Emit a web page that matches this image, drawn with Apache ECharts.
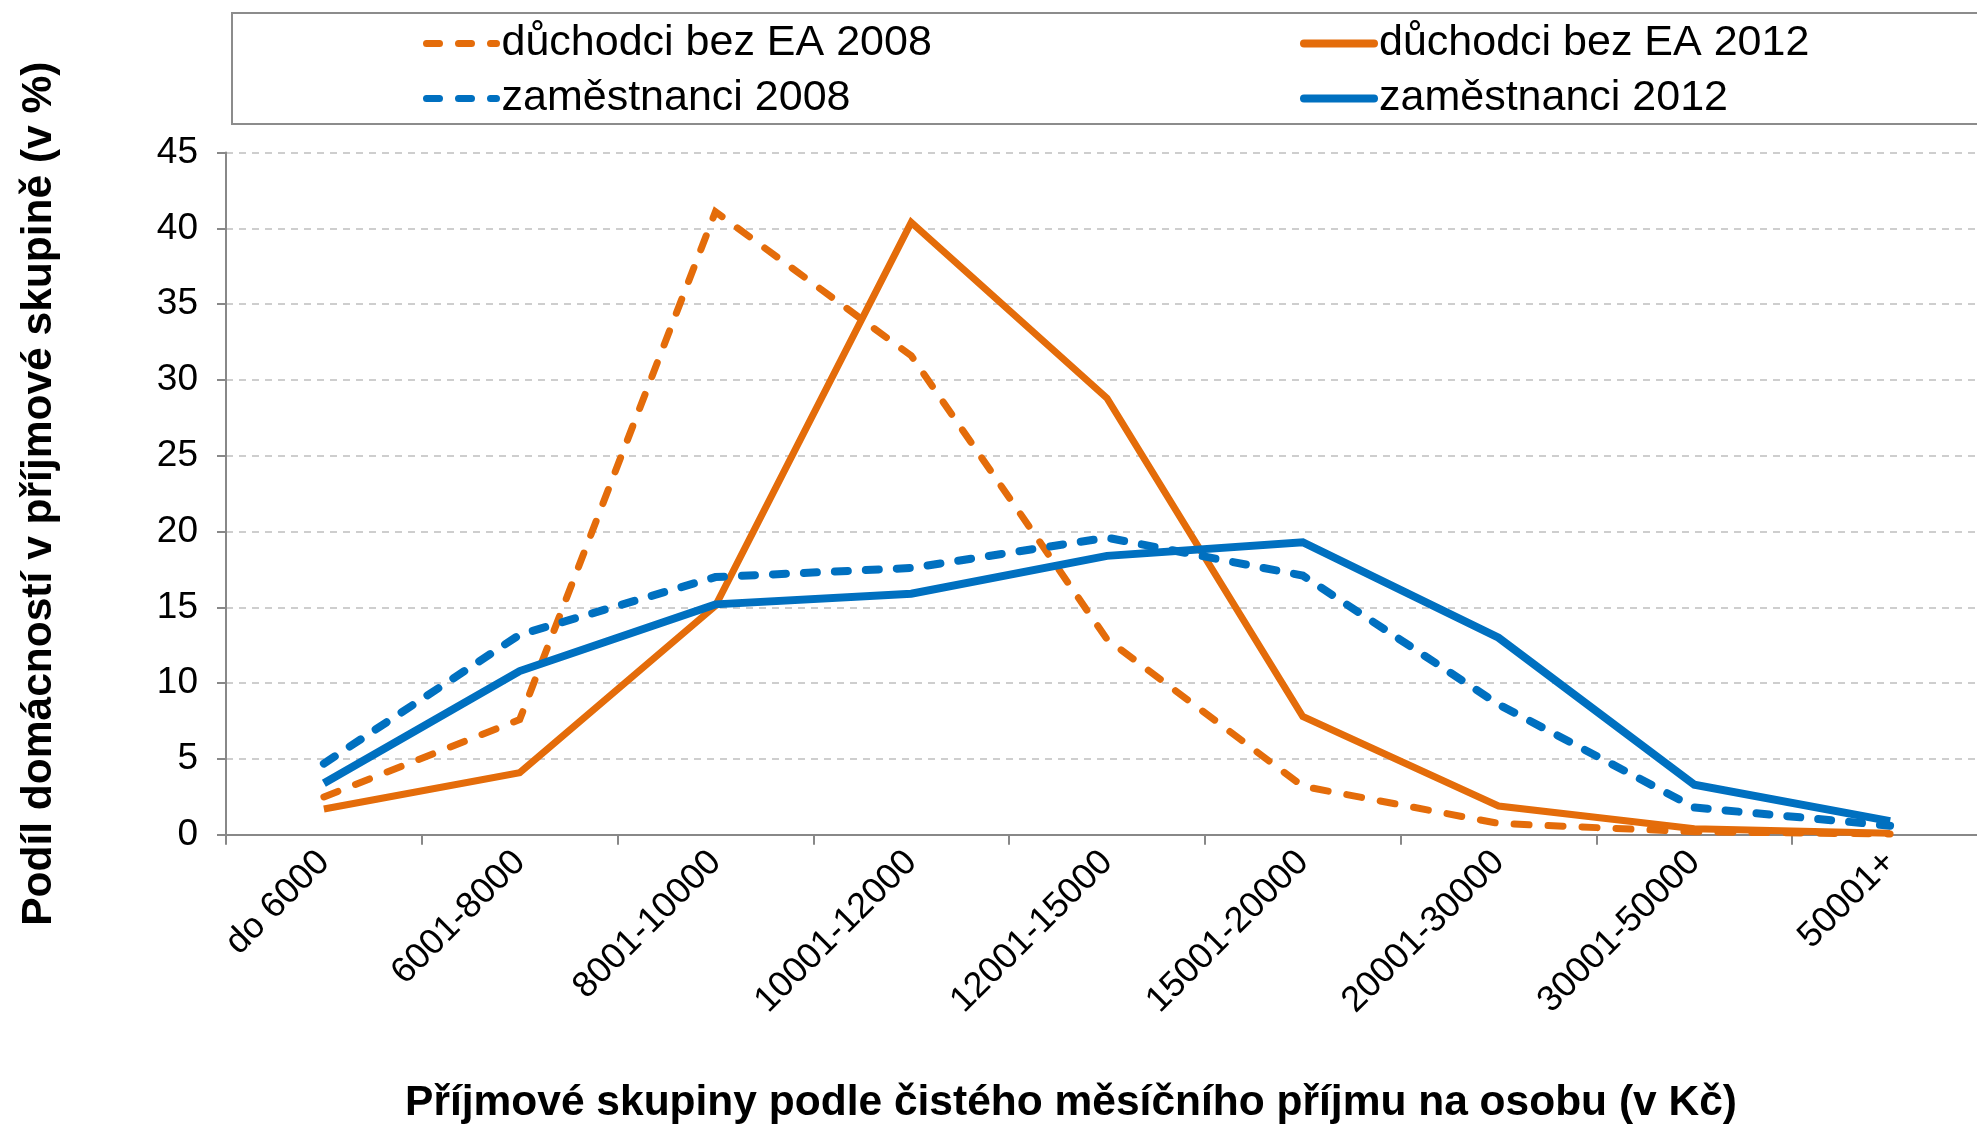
<!DOCTYPE html>
<html>
<head>
<meta charset="utf-8">
<script src="https://cdn.jsdelivr.net/npm/echarts@6/dist/echarts.min.js"></script>
<style>
  html, body { margin: 0; padding: 0; background: #fff; }
  #chart { width: 1977px; height: 1125px; }
</style>
</head>
<body>
<div id="chart"></div>
<script>
// příjmové skupiny
const categories = ['do 6000', '6001-8000', '8001-10000', '10001-12000', '12001-15000',
  '15001-20000', '20001-30000', '30001-50000', '50001+'];

// podíl domácností (v %)
const duchodci2008 = [2.5, 7.6, 41.1, 31.6, 12.9, 3.2, 0.75, 0.2, 0.05];
const duchodci2012 = [1.7, 4.1, 15.1, 40.4, 28.8, 7.8, 1.9, 0.4, 0.1];
const zamestnanci2008 = [4.7, 13.2, 17.0, 17.6, 19.6, 17.1, 8.6, 1.8, 0.6];
const zamestnanci2012 = [3.4, 10.8, 15.2, 15.9, 18.4, 19.3, 13.0, 3.3, 0.9];

const yTicks = [0, 5, 10, 15, 20, 25, 30, 35, 40, 45];

const ORANGE = '#E46C0A';
const BLUE = '#0070C0';
const FONT = '"Liberation Sans", Arial, sans-serif';

const chart = echarts.init(document.getElementById('chart'));

function lineSeries(name, data, color, width, dash) {
  return {
    name: name,
    type: 'line',
    data: data,
    symbol: 'none',
    animation: false,
    lineStyle: {
      color: color,
      width: width,
      type: dash || 'solid',
      cap: dash ? 'round' : 'butt',
      join: 'miter'
    },
    itemStyle: { color: color }
  };
}

// legend entry: line icon only, no symbol
function legendItem(name, color, width, dash) {
  return {
    name: name,
    itemStyle: { opacity: 0 },
    lineStyle: { color: color, width: width, type: dash || 'solid', cap: 'round' }
  };
}

const legendBase = {
  orient: 'vertical',
  itemWidth: 70,
  itemHeight: 14,
  itemGap: 12,
  padding: 0,
  textStyle: { fontFamily: FONT, fontSize: 43, color: '#000', padding: [0, 0, 0, 0] }
};

const option = {
  backgroundColor: '#fff',
  animation: false,
  graphic: [{
    type: 'rect',
    shape: { x: 232, y: 13, width: 1780, height: 111 },
    style: { fill: 'none', stroke: '#8c8c8c', lineWidth: 2 },
    z: -1
  }],
  legend: [
    Object.assign({}, legendBase, {
      left: 423, top: 22,
      data: [
        legendItem('důchodci bez EA 2008', ORANGE, 7, [13, 19]),
        legendItem('zaměstnanci 2008', BLUE, 7, [13, 19])
      ]
    }),
    Object.assign({}, legendBase, {
      left: 1300, top: 22,
      data: [
        legendItem('důchodci bez EA 2012', ORANGE, 8),
        legendItem('zaměstnanci 2012', BLUE, 8)
      ]
    })
  ],
  grid: { left: 226, right: -11, top: 152.6, bottom: 290.2, containLabel: false, outerBoundsMode: 'none' },
  xAxis: {
    type: 'category',
    data: categories,
    boundaryGap: true,
    name: 'Příjmové skupiny podle čistého měsíčního příjmu na osobu (v Kč)',
    nameLocation: 'middle',
    nameGap: 247,
    nameTextStyle: { fontFamily: FONT, fontSize: 42.5, fontWeight: 'bold', color: '#000', padding: [0, 72, 0, 0] },
    axisLine: { lineStyle: { color: '#888', width: 2 } },
    axisTick: { show: true, alignWithLabel: false, length: 10, lineStyle: { color: '#888', width: 2 } },
    axisLabel: { rotate: 45, margin: 22, fontFamily: FONT, fontSize: 36, color: '#000', interval: 0 },
    splitLine: { show: false }
  },
  yAxis: {
    type: 'value',
    min: 0,
    max: 45,
    interval: 5,
    name: 'Podíl domácností v příjmové skupině (v %)',
    nameLocation: 'middle',
    nameGap: 165,
    nameTextStyle: { fontFamily: FONT, fontSize: 42.5, fontWeight: 'bold', color: '#000' },
    axisLine: { show: true, lineStyle: { color: '#888', width: 2 } },
    axisTick: { show: true, length: 9, lineStyle: { color: '#888', width: 2 } },
    axisLabel: {
      margin: 28, fontFamily: FONT, fontSize: 37, color: '#000',
      formatter: function (v) { return yTicks.indexOf(v) >= 0 ? String(v) : ''; }
    },
    splitLine: { show: true, lineStyle: { color: '#BFBFBF', width: 1.5, type: [7, 6] } }
  },
  series: [
    lineSeries('důchodci bez EA 2008', duchodci2008, ORANGE, 7, [15, 19]),
    lineSeries('důchodci bez EA 2012', duchodci2012, ORANGE, 7, null),
    lineSeries('zaměstnanci 2008', zamestnanci2008, BLUE, 8, [13, 18]),
    lineSeries('zaměstnanci 2012', zamestnanci2012, BLUE, 8, null)
  ]
};

chart.setOption(option);
</script>
</body>
</html>
